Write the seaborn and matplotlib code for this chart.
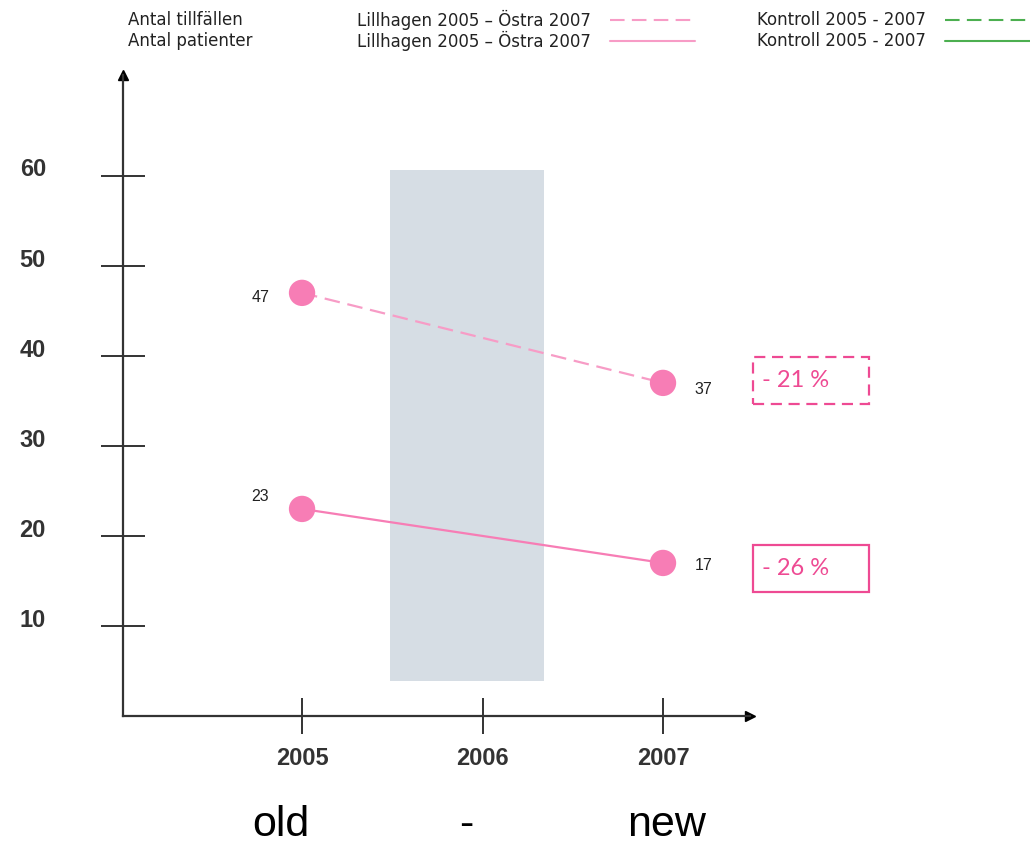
import numpy as np
import pandas as pd
import seaborn as sns
import matplotlib.pyplot as plt
from matplotlib.patches import Rectangle
from matplotlib.lines import Line2D
from matplotlib.transforms import ScaledTranslation

sns.set_theme(style="white")
plt.rcParams["font.family"] = ["Liberation Sans", "DejaVu Sans"]

# data
years = [2005, 2007]
tillfallen = [47, 37]       # Antal tillfällen, Lillhagen 2005 - Östra 2007
patienter = [23, 17]        # Antal patienter, Lillhagen 2005 - Östra 2007
change_labels = ["- 21 %", "- 26 %"]
yticks = [10, 20, 30, 40, 50, 60]
xticks = [2005, 2006, 2007]
period_names = ["old", "-", "new"]

df = pd.DataFrame({
    "year": years * 2,
    "value": tillfallen + patienter,
    "serie": ["Antal tillfällen"] * 2 + ["Antal patienter"] * 2,
})

pink = "#f77db5"
box_pink = "#ee4a93"
axis_col = "#333333"

fig = plt.figure(figsize=(10.3, 8.47), dpi=100)
ax = fig.add_axes([123 / 1030, 1 - 716 / 847, (750 - 123) / 1030, (716 - 75) / 847])
ax.set_xlim(2004.008, 2007.482)
ax.set_ylim(0, 71.2)

# grå period
ax.add_patch(Rectangle((2005.49, 3.9), 0.85, 56.7, color="#d6dde4", lw=0, zorder=0))

sns.lineplot(data=df, x="year", y="value", hue="serie", style="serie",
             palette={"Antal tillfällen": "#f79cc6", "Antal patienter": pink},
             dashes={"Antal tillfällen": (7, 3.5), "Antal patienter": ""},
             linewidth=1.6, legend=False, ax=ax, zorder=2)
sns.scatterplot(data=df, x="year", y="value", color=pink, s=360,
                edgecolor="none", legend=False, ax=ax, zorder=3)

# värde-etiketter
offsets = [(-30, -3), (29, -5), (-30, 9), (29, -2)]
for (x, v), off in zip(zip(df["year"], df["value"]), offsets):
    ax.annotate(str(v), (x, v), xytext=off, textcoords="offset points",
                ha="center", va="center", fontsize=11.5, color="#222222")

# procent-rutor
for (y0, y1, ls), lab in zip([(34.67, 39.89, (0, (5, 3))), (13.78, 19.0, "-")], change_labels):
    ax.add_patch(Rectangle((2007.499, y0), 0.642, y1 - y0, fill=False,
                           edgecolor=box_pink, lw=1.6, linestyle=ls, clip_on=False))
    ax.text(2007.55, (y0 + y1) / 2, lab, fontsize=17, color=box_pink,
            family=["Lato", "DejaVu Sans"], ha="left", va="center", clip_on=False)

# axlar
for s in ["top", "right"]:
    ax.spines[s].set_visible(False)
for s in ["left", "bottom"]:
    ax.spines[s].set_color(axis_col)
    ax.spines[s].set_linewidth(1.6)
ax.plot(0, 1, "^", color="black", ms=7, transform=ax.transAxes, clip_on=False)
ax.plot(1, 0, ">", color="black", ms=7, transform=ax.transAxes, clip_on=False)

ax.set_yticks(yticks)
ax.set_yticklabels([str(t) for t in yticks])
ax.set_xticks(xticks)
ax.set_xticklabels([str(t) for t in xticks])
ax.tick_params(axis="y", left=True, direction="inout", length=31, width=1.4, color=axis_col,
               pad=40, labelsize=17, labelcolor=axis_col)
ax.tick_params(axis="x", bottom=True, direction="inout", length=26, width=1.4, color=axis_col,
               pad=9, labelsize=17, labelcolor=axis_col)
for lbl in ax.get_yticklabels() + ax.get_xticklabels():
    lbl.set_fontweight("bold")
for lbl in ax.get_yticklabels():
    lbl.set_transform(lbl.get_transform() + ScaledTranslation(0, 6 / 72, fig.dpi_scale_trans))
ax.set_xlabel("")
ax.set_ylabel("")
ax.grid(False)

for x, name in zip([2004.88, 2005.91, 2007.02], period_names):
    ax.text(x, -0.17, name, transform=ax.get_xaxis_transform(), ha="center",
            va="center", fontsize=31, color="black")

# legend överst
rows = [1 - 20 / 847, 1 - 41 / 847]
legend_texts = [
    (128, ["Antal tillfällen", "Antal patienter"]),
    (357, ["Lillhagen 2005 – Östra 2007", "Lillhagen 2005 – Östra 2007"]),
    (757, ["Kontroll 2005 - 2007", "Kontroll 2005 - 2007"]),
]
for xpx, labs in legend_texts:
    for y, lab in zip(rows, labs):
        fig.text(xpx / 1030, y, lab, fontsize=12, color="#222222", ha="left", va="center",
                 family="DejaVu Sans")

for (x0, x1), col in [((610, 695), "#f79cc6"), ((945, 1030), "#4caf50")]:
    fig.add_artist(Line2D([x0 / 1030, x1 / 1030], [rows[0]] * 2, color=col, lw=1.5,
                          linestyle=(0, (7, 3.5)), transform=fig.transFigure))
    fig.add_artist(Line2D([x0 / 1030, x1 / 1030], [rows[1]] * 2, color=col, lw=1.5,
                          transform=fig.transFigure))

fig.savefig("out.png", dpi=100)
